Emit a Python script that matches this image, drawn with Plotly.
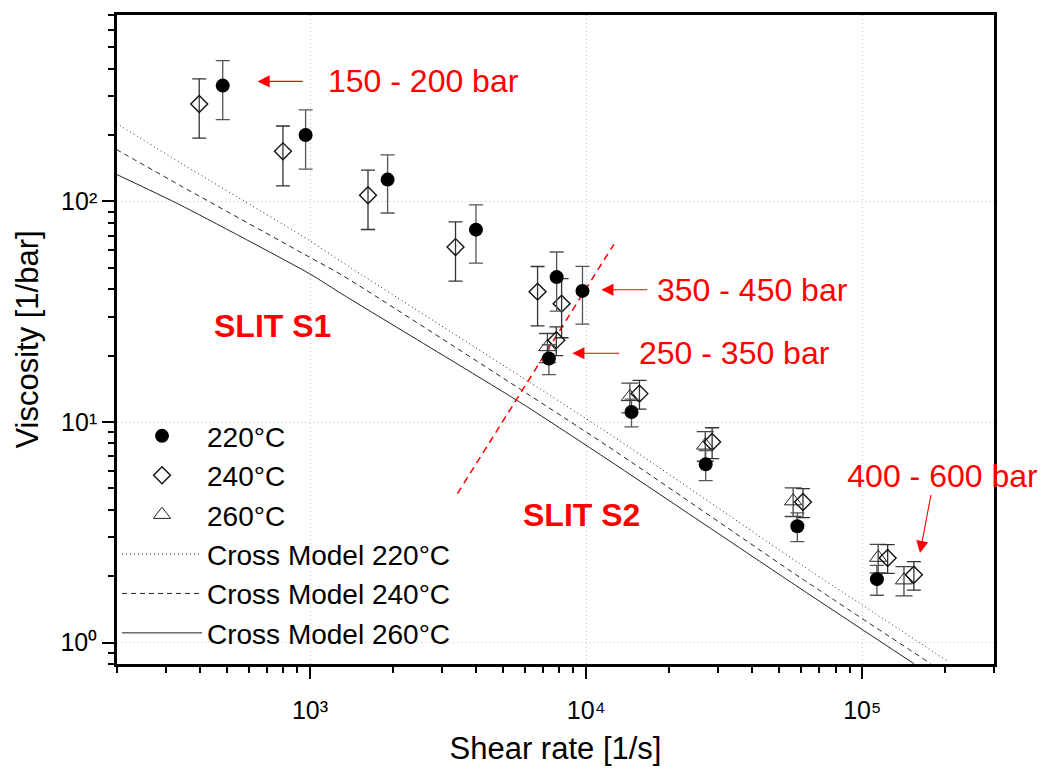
import math
import plotly.graph_objects as go

# ---------------- data ----------------
shear_220 = [483, 964, 1910, 3990, 7820, 9700, 7330, 14600, 27100, 58200, 113000]
visc_220 = [335, 200, 125.6, 74.5, 45.4, 39.3, 19.4, 11.1, 6.43, 3.37, 1.94]
err_220 = [100, 60, 37, 22, 13.6, 11.5, 3.0, 1.6, 1.0, 0.5, 0.3]

shear_240 = [397, 798, 1622, 3365, 6670, 8150, 7800, 15600, 28600, 61000, 123600, 153800]
visc_240 = [276.5, 168.7, 106.6, 62.1, 39.0, 34.4, 23.5, 13.45, 8.12, 4.34, 2.42, 2.03]
err_240 = [83, 51, 32, 18.6, 11.7, 10.3, 3.5, 2.0, 1.3, 0.65, 0.36, 0.3]

shear_260 = [7240, 14400, 27000, 56200, 114200, 141600]
visc_260 = [21.9, 13.0, 7.84, 4.38, 2.43, 1.92]
err_260 = [3.3, 2.0, 1.2, 0.65, 0.36, 0.29]

cm220_rate = [199, 341, 994, 1330, 12100, 59000, 206000]
cm220_visc = [226, 149, 66.6, 52.3, 8.86, 2.29, 0.817]
cm240_rate = [199, 341, 994, 1330, 12100, 59000, 177000]
cm240_visc = [172, 117.5, 56, 45.7, 7.70, 1.99, 0.803]
cm260_rate = [199, 341, 994, 1330, 5875, 12100, 59000, 153800]
cm260_visc = [132.7, 96, 47.1, 37.5, 12.1, 6.70, 1.776, 0.803]

slit_rate = [3420, 12600]
slit_visc = [4.74, 63.9]

x_major = [1e3, 1e4, 1e5]
x_major_text = ["10³", "10⁴", "10⁵"]
y_major = [1, 10, 100]
y_major_text = ["10⁰", "10¹", "10²"]

# pressure annotations: label, arrow tip (rate, viscosity)
press_labels = ["150 - 200 bar", "350 - 450 bar", "250 - 350 bar", "400 - 600 bar"]
press_tip_rate = [646, 11350, 8913, 161800]
press_tip_visc = [350, 39.8, 20.5, 2.55]

FONT = "Liberation Sans, Arial, sans-serif"

fig = go.Figure()

# Cross model lines
fig.add_trace(go.Scatter(x=cm220_rate, y=cm220_visc, mode="lines", name="Cross Model 220°C",
                         line=dict(color="#222", width=1, dash="1px,3px", shape="spline", smoothing=0.6),
                         legendrank=4))
fig.add_trace(go.Scatter(x=cm240_rate, y=cm240_visc, mode="lines", name="Cross Model 240°C",
                         line=dict(color="#222", width=1, dash="5px,4px", shape="spline", smoothing=0.6),
                         legendrank=5))
fig.add_trace(go.Scatter(x=cm260_rate, y=cm260_visc, mode="lines", name="Cross Model 260°C",
                         line=dict(color="#222", width=1, shape="spline", smoothing=0.6),
                         legendrank=6))

# slit boundary
fig.add_trace(go.Scatter(x=slit_rate, y=slit_visc, mode="lines", showlegend=False,
                         line=dict(color="red", width=1.5, dash="7px,5px")))

# measurements
fig.add_trace(go.Scatter(x=shear_260, y=visc_260, mode="markers", name="260°C",
                         marker=dict(symbol="triangle-up-open", size=15, color="#222",
                                     line=dict(width=1, color="#222")),
                         error_y=dict(type="data", array=err_260, color="#444", thickness=1.3, width=8.5),
                         legendrank=3))
fig.add_trace(go.Scatter(x=shear_240, y=visc_240, mode="markers", name="240°C",
                         marker=dict(symbol="diamond-open", size=13, color="#111",
                                     line=dict(width=1.4, color="#111")),
                         error_y=dict(type="data", array=err_240, color="#333", thickness=1.3, width=7),
                         legendrank=2))
fig.add_trace(go.Scatter(x=shear_220, y=visc_220, mode="markers", name="220°C",
                         marker=dict(symbol="circle", size=14, color="black"),
                         error_y=dict(type="data", array=err_220, color="#555", thickness=1.3, width=7),
                         legendrank=1))

minor_x = [v * 10 ** e for e in (2, 3, 4) for v in range(2, 10)] + [2e5, 3e5]
minor_y = [0.8, 0.9] + [v * 10 ** e for e in (0, 1, 2) for v in range(2, 10)]

axis_common = dict(
    type="log", showline=True, linecolor="black", linewidth=2.5, mirror=True,
    ticks="outside", ticklen=12, tickwidth=2, tickcolor="black",
    tickfont=dict(family=FONT, size=25, color="black"),
    showgrid=True, gridcolor="#c4c4c4", griddash="1px,3px", gridwidth=1, zeroline=False,
    automargin=False,
)
fig.update_xaxes(**axis_common, range=[math.log10(200), math.log10(3e5)],
                 tickvals=x_major, ticktext=x_major_text, ticklabelstandoff=10,
                 minor=dict(tickvals=minor_x, ticks="outside", ticklen=6, tickwidth=2,
                            tickcolor="black", showgrid=False),
                 title=dict(text="Shear rate [1/s]", font=dict(family=FONT, size=31, color="black"),
                            standoff=15))
fig.update_yaxes(**axis_common, range=[math.log10(0.8), math.log10(700)],
                 tickvals=y_major, ticktext=y_major_text,
                 minor=dict(tickvals=minor_y, ticks="outside", ticklen=6, tickwidth=2,
                            tickcolor="black", showgrid=False),
                 title=dict(text="Viscosity [1/bar]", font=dict(family=FONT, size=31, color="black"),
                            standoff=13))

annotations = []
# text + arrow (arrow tail sits on the text box edge)
arrow_tail_offsets = [(45, 0), (46, 0), (47, 0), (11, -58)]
box_pads = [24, 9, 19, 0]
for i, (lab, xr, yv) in enumerate(zip(press_labels, press_tip_rate, press_tip_visc)):
    ax, ay = arrow_tail_offsets[i]
    ann = dict(x=math.log10(xr), y=math.log10(yv), xref="x", yref="y",
               ax=ax, ay=ay, axref="pixel", ayref="pixel", text=lab,
               showarrow=True, arrowhead=2, arrowsize=2.2, arrowwidth=1.1,
               arrowcolor="red", borderpad=box_pads[i],
               font=dict(family=FONT, size=32, color="red"))
    if ay == 0:
        ann.update(xanchor="left", yanchor="middle", align="left")
    else:
        ann.update(xanchor="center", yanchor="bottom", align="right", width=214)
    annotations.append(ann)

def paper(px, py):
    return (px - 117) / 877, (664 - py) / 649

for lab, (px, py) in zip(["SLIT S1", "SLIT S2"], [(272, 326), (581, 515)]):
    xp, yp = paper(px, py)
    annotations.append(dict(x=xp, y=yp, xref="paper", yref="paper", text="<b>" + lab + "</b>",
                            showarrow=False, xanchor="center", yanchor="middle",
                            font=dict(family=FONT, size=32, color="red")))

fig.update_layout(
    width=1041, height=761,
    margin=dict(l=109, r=55, t=7, b=105),
    paper_bgcolor="white", plot_bgcolor="white",
    font=dict(family=FONT, color="black"),
    annotations=annotations,
    legend=dict(x=0.0, y=0.3896, xanchor="left", yanchor="top", bgcolor="rgba(0,0,0,0)",
                font=dict(family=FONT, size=28, color="black"), tracegroupgap=0,
                itemwidth=80),
)

fig.write_html("out.html")
